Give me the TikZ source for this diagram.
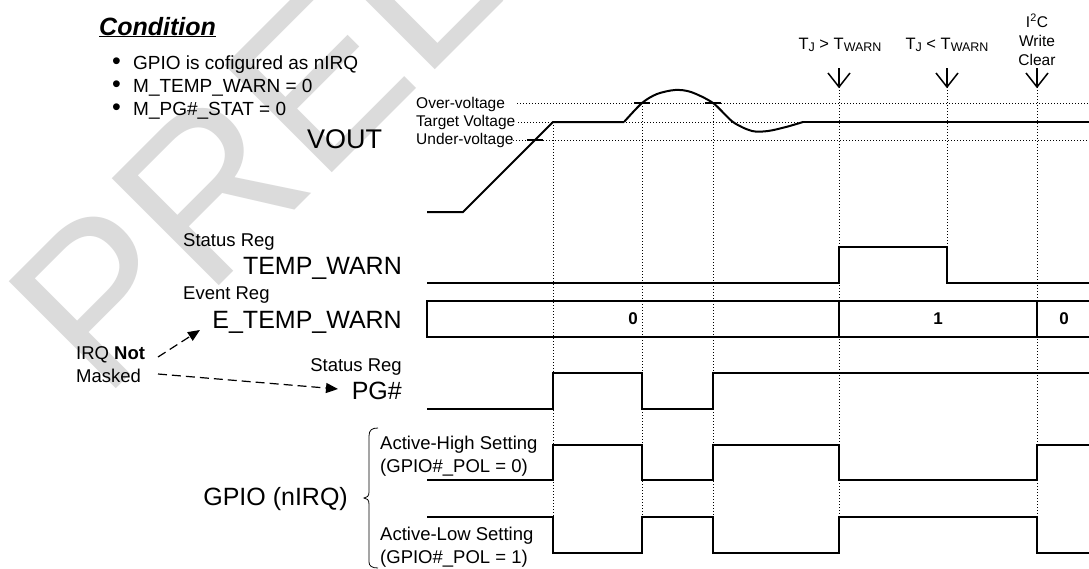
\documentclass[tikz,border=0pt]{standalone}
\usepackage{fontspec}
\setmainfont{Liberation Sans}
\usetikzlibrary{arrows.meta}
\newcommand{\fsz}[1]{\fontsize{#1}{#1}\selectfont}
\newcommand{\lowsub}[1]{\raisebox{-0.18em}{\fontsize{12.5}{12.5}\selectfont #1}}
\newcommand{\bul}{\makebox[21pt][l]{\raisebox{-0.05em}{\fontsize{25}{25}\selectfont •}}}
\begin{document}
\begin{tikzpicture}[x=1pt,y=-1pt,
  sig/.style={line width=2pt},
  dots/.style={line width=0.9pt, dash pattern=on 0.9pt off 2.1pt},
  tick/.style={line width=1.1pt},
  chev/.style={line width=1.5pt},
  txt/.style={inner sep=0pt, anchor=base west},
  txtr/.style={inner sep=0pt, anchor=base east},
  txtc/.style={inner sep=0pt, anchor=base},
  dash arrow/.style={line width=1.2pt, dash pattern=on 9pt off 5pt, -{Triangle[length=12pt,width=10pt]}},
  bitval/.style={inner sep=0pt, font=\fsz{17}\bfseries}]
\useasboundingbox (0,0) rectangle (1089,568);
\fill[white] (0,0) rectangle (1089,568);
% watermark
\begin{scope}
\clip (0,0) rectangle (1089,568);
\node[rotate=45, anchor=base west, inner sep=0pt, text=black!14, font=\fsz{220}] (wm) at (103,402) {PRELIMINARY};
\end{scope}

% level lines
\draw[dots] (517,103) -- (1089,103);
\draw[dots] (518,122) -- (1089,122);
\draw[dots] (513,140) -- (1089,140);
% vertical dotted lines
\coordinate (ar1) at (839,87);
\coordinate (ar2) at (947,87);
\coordinate (ar3) at (1037,87);
\draw[dots] (553,122) -- (553,553);
\draw[dots] (642,103) -- (642,553);
\draw[dots] (713,103) -- (713,553);
\draw[dots] (ar1) -- (839,553);
\draw[dots] (ar2) -- (947,247);
\draw[dots] (ar3) -- (1037,553);

% ticks
\draw[tick] (527,140) -- (543,140);
\draw[tick] (634,103) -- (650,103);
\draw[tick] (705,103) -- (721,103);

% VOUT waveform
\draw[sig] (427,212) -- (463,212) -- (553,122) -- (624,122);
\draw[sig] plot[smooth, tension=0.5] coordinates {(624,122) (642,103) (657,94) (675,90) (691,92) (713,103) (733,122) (752,131) (768,131) (786,127) (803,122)};
\draw[sig] (803,122) -- (1090,122);

% TEMP_WARN
\draw[sig] (427,283) -| (839,247) -| (947,283) -- (1090,283);
% E_TEMP_WARN bar
\draw[sig] (1090,301) -- (427,301) -- (427,337) -- (1090,337);
\draw[sig] (839,301) -- (839,337);
\draw[sig] (1037,301) -- (1037,337);
\node[bitval] (v0) at (633,319) {0};
\node[bitval] (v1) at (938,319) {1};
\node[bitval] (v2) at (1064,319) {0};
% PG#
\draw[sig] (427,409) -| (553,373) -| (642,409) -| (713,373) -- (1090,373);
% GPIO active high
\draw[sig] (427,480) -| (553,445) -| (642,480) -| (713,445) -| (839,480) -| (1037,445) -- (1090,445);
% GPIO active low
\draw[sig] (427,517) -| (553,553) -| (642,517) -| (713,553) -| (839,517) -| (1037,553) -- (1090,553);

% event arrows
\draw[chev] (839,68) -- (ar1);
\draw[chev] (828,73) -- (ar1) -- (850,73);
\draw[chev] (947,68) -- (ar2);
\draw[chev] (936,73) -- (ar2) -- (958,73);
\draw[chev] (1037,68) -- (ar3);
\draw[chev] (1026,73) -- (ar3) -- (1048,73);
\node[txtc, font=\fsz{16.5}] (e1) at (840,49) {T\lowsub{J} > T\lowsub{WARN}};
\node[txtc, font=\fsz{16.5}] (e2) at (947,49) {T\lowsub{J} < T\lowsub{WARN}};
\node[txtc, font=\fsz{15.5}] (e3a) at (1037,27) {I\textsuperscript{2}C};
\node[txtc, font=\fsz{15.5}] (e3b) at (1037,46) {Write};
\node[txtc, font=\fsz{15.5}] (e3c) at (1037,65) {Clear};

% condition block
\node[txt, font=\fsz{25}\bfseries\itshape] (cond) at (99,35) {\underline{Condition}};
\node[txt, font=\fsz{19}] (b1) at (112,69) {\bul GPIO is cofigured as nIRQ};
\node[txt, font=\fsz{19}] (b2) at (112,92) {\bul M\_TEMP\_WARN = 0};
\node[txt, font=\fsz{19}] (b3) at (112,115) {\bul M\_PG\#\_STAT = 0};

% signal labels
\node[txt, font=\fsz{27}] (vout) at (307,148) {VOUT};
\node[txt, font=\fsz{15.5}] (ov) at (416,108) {Over-voltage};
\node[txt, font=\fsz{15.5}] (tv) at (416,126) {Target Voltage};
\node[txt, font=\fsz{15.5}] (uv) at (416,144) {Under-voltage};
\node[txt, font=\fsz{18.5}] (sr1) at (183,246) {Status Reg};
\node[txtr, font=\fsz{25}] (tw) at (402,274) {TEMP\_WARN};
\node[txt, font=\fsz{18.5}] (er) at (183,299) {Event Reg};
\node[txtr, font=\fsz{25}] (etw) at (402,328) {E\_TEMP\_WARN};
\node[txt, font=\fsz{18.5}] (irq) at (76,359) {IRQ \textbf{Not}};
\node[txt, font=\fsz{18.5}] (msk) at (76,382) {Masked};
\node[txtr, font=\fsz{18.5}] (sr2) at (402,371) {Status Reg};
\node[txtr, font=\fsz{25}] (pg) at (402,399) {PG\#};
\node[txtr, font=\fsz{25}] (gpio) at (348,505) {GPIO (nIRQ)};
\node[txt, font=\fsz{18.5}] (ah1) at (380,449) {Active-High Setting};
\node[txt, font=\fsz{18.5}] (ah2) at (380,472) {(GPIO\#\_POL = 0)};
\node[txt, font=\fsz{18.5}] (al1) at (380,540) {Active-Low Setting};
\node[txt, font=\fsz{18.5}] (al2) at (380,563) {(GPIO\#\_POL = 1)};

% brace
\draw[line width=0.8pt] (378,428) .. controls (372,428) and (369,430) .. (369,436) -- (369,492) .. controls (369,496) and (367,498) .. (364,498) .. controls (367,498) and (369,500) .. (369,504) -- (369,562) .. controls (369,566) and (372,568) .. (378,568);

% IRQ not masked arrows
\coordinate (a1s) at (158,357);
\coordinate (a1e) at (200,330);
\coordinate (a2s) at (158,374);
\coordinate (a2e) at (338,389);
\draw[dash arrow] (a1s) -- (a1e);
\draw[dash arrow] (a2s) -- (a2e);
\end{tikzpicture}
\end{document}
